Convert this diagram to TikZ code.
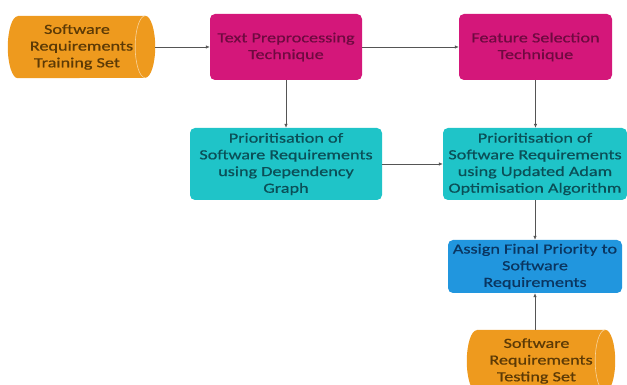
\documentclass[tikz,border=0pt]{standalone}
\usepackage{fontspec}
\setmainfont{Carlito}[FakeStretch=1.3,FakeBold=0.6]
\usetikzlibrary{arrows.meta,backgrounds}
\definecolor{orangeC}{HTML}{EE9A1E}
\definecolor{orangeT}{HTML}{5C3A06}
\definecolor{magC}{HTML}{D4177A}
\definecolor{magT}{HTML}{6E0A40}
\definecolor{tealC}{HTML}{1FC4C8}
\definecolor{tealT}{HTML}{0B4F57}
\definecolor{blueC}{HTML}{2196DE}
\definecolor{blueT}{HTML}{0A3560}
\definecolor{lineC}{HTML}{555555}
\newcommand{\cs}{\hspace*{9pt}}
\tikzset{
  base/.style={align=center,inner sep=0pt,font=\fontsize{14}{16.7}\selectfont},
  magbox/.style={base,fill=magC,text=magT,rounded corners=5pt},
  tealbox/.style={base,fill=tealC,text=tealT,rounded corners=5pt},
  bluebox/.style={base,fill=blueC,text=blueT,rounded corners=5pt},
  cyl/.style={base,text=orangeT},
  conn/.style={draw=lineC,line width=0.6pt,-{Latex[length=4pt,width=3.5pt]}}
}
\newcommand{\cylbody}[1]{%
  \fill[orangeC] ([xshift=10pt]#1.north west) -- ([xshift=-10pt]#1.north east)
    arc[start angle=90,end angle=-90,x radius=10pt,y radius=31pt]
    -- ([xshift=10pt]#1.south west)
    arc[start angle=270,end angle=90,x radius=10pt,y radius=31pt] -- cycle;
  \draw[orangeC!45!white,line width=0.6pt] ([xshift=-10pt]#1.north east)
    arc[start angle=90,end angle=270,x radius=10pt,y radius=31pt];}
\begin{document}
\begin{tikzpicture}[x=1pt,y=1pt]
\useasboundingbox (0,0) rectangle (627,385);
\clip (0,0) rectangle (627,385);
\node[cyl,minimum width=147pt,minimum height=62pt] (train) at (81.5,338) {Software\cs\\Requirements\cs\\Training Set\cs};
\node[magbox,minimum width=152pt,minimum height=66pt] (pre) at (286,338) {Text Preprocessing\\Technique};
\node[magbox,minimum width=153pt,minimum height=66pt] (feat) at (535.5,338) {Feature Selection\\Technique};
\node[tealbox,minimum width=192pt,minimum height=72pt] (dg) at (286,221) {Prioritisation of\\Software Requirements\\using Dependency\\Graph};
\node[tealbox,minimum width=184pt,minimum height=72pt] (adam) at (535,221) {Prioritisation of\\Software Requirements\\using Updated Adam\\Optimisation Algorithm};
\node[bluebox,minimum width=174pt,minimum height=53pt] (assign) at (535,118.5) {Assign Final Priority to\\Software\\Requirements};
\node[cyl,minimum width=148pt,minimum height=62pt] (test) at (541,24) {Software\cs\\Requirements\cs\\Testing Set\cs};
\begin{scope}[on background layer]
\cylbody{train}
\cylbody{test}
\end{scope}
\draw[conn] (train.east) -- (pre.west);
\draw[conn] (pre.east) -- (feat.west);
\draw[conn] (pre.south) -- (dg.north);
\draw[conn] (feat.south) -- (feat.south |- adam.north);
\draw[conn] (dg.east) -- (adam.west);
\draw[conn] (adam.south -| assign.north) -- (assign.north);
\draw[conn] (test.north -| assign.south) -- (assign.south);
\end{tikzpicture}
\end{document}
